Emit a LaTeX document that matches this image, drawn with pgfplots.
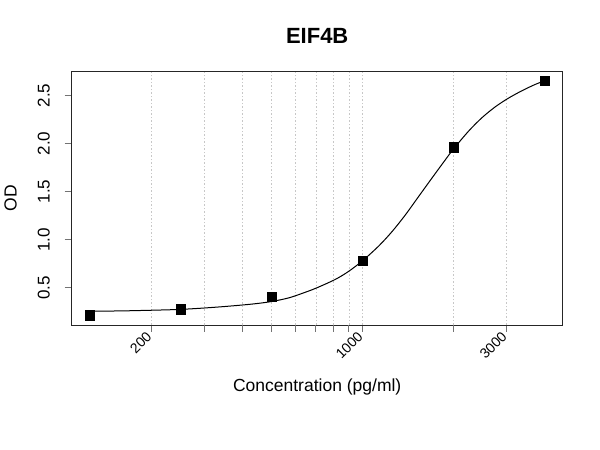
\documentclass[border=0pt]{standalone}
\usepackage{pgfplots}
\pgfplotsset{compat=1.18}
\usepackage{fontspec}
\setmainfont{Liberation Sans}
\begin{document}
\begin{tikzpicture}[x=1pt,y=1pt]
\useasboundingbox (0,0) rectangle (600,450);
\begin{axis}[
  at={(71.7pt,125pt)}, anchor=south west,
  scale only axis, width=491pt, height=253.3pt,
  xmode=log, xmin=108.78, xmax=4595.6, ymin=0.1124, ymax=2.7476,
  xtick={200,1000,3000},
  xticklabels={200,1000,3000},
  extra x ticks={300,400,500,600,700,800,900,2000},
  extra x tick labels={},
  extra x tick style={xmajorgrids=true},
  minor xtick={},
  ytick={0.5,1.0,1.5,2.0,2.5},
  yticklabels={0.5,1.0,1.5,2.0,2.5},
  tick pos=left, tick align=outside, major tick length=7pt,
  xmajorgrids,
  grid style={black!22, line width=0.6pt, dash pattern=on 1.5pt off 2pt},
  axis line style={black!85, line width=0.9pt},
  tick style={black!55, line width=0.8pt},
  xticklabel style={rotate=45, anchor=east, font=\fontsize{14}{14}\selectfont},
  yticklabel style={rotate=90, anchor=base, yshift=15pt, font=\fontsize{17}{17}\selectfont},
  /pgf/number format/assume math mode=true,
]
\addplot[black, line width=1pt, smooth, tension=0.5] coordinates {
(125,0.255) (150,0.258) (177,0.262) (250,0.275) (334,0.300) (430,0.330)
(500,0.357) (570,0.395) (630,0.441) (700,0.495) (812,0.587) (900,0.672)
(1000,0.782) (1130,0.934) (1250,1.083) (1384,1.257) (1531,1.448) (1695,1.64)
(1877,1.83) (2000,1.945) (2242,2.129) (2481,2.268) (2748,2.382) (3026,2.469)
(3365,2.549) (3726,2.615) (4000,2.652)
};
\addplot[only marks, mark=square*, mark size=4.7pt, black] coordinates {
(125,0.215) (250,0.275) (500,0.406) (1000,0.781) (2000,1.962) (4000,2.653)
};
\end{axis}
\node[anchor=base, font=\fontsize{22}{22}\selectfont\bfseries] at (317.2,406) {EIF4B};
\node[anchor=base, font=\fontsize{17.5}{17.5}\selectfont] at (317.2,58.3) {Concentration (pg/ml)};
\node[anchor=base, rotate=90, font=\fontsize{17.5}{17.5}\selectfont] at (16.7,251.7) {OD};
\end{tikzpicture}
\end{document}
